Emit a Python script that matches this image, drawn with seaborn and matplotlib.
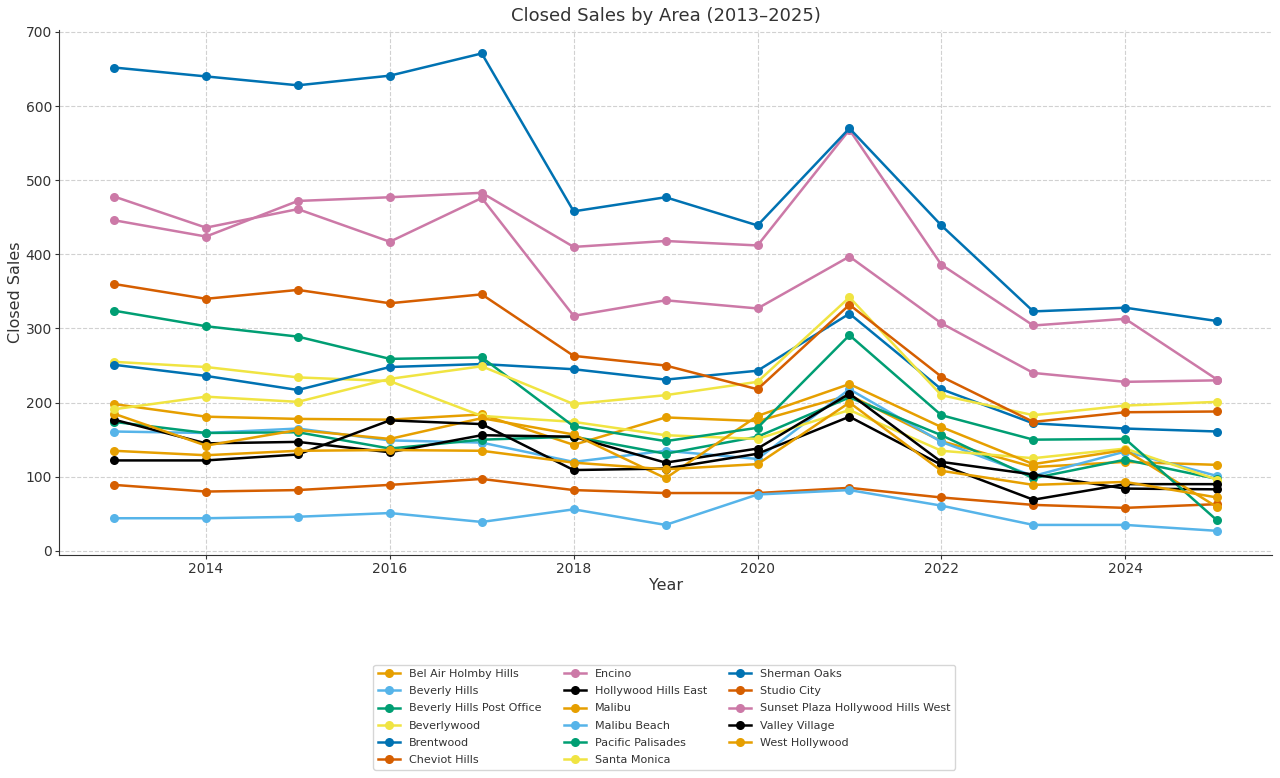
import pandas as pd
import matplotlib
matplotlib.use("Agg")
import matplotlib.pyplot as plt
import seaborn as sns

# ------------------------ data ------------------------
years = [2013, 2014, 2015, 2016, 2017, 2018, 2019, 2020, 2021, 2022, 2023, 2024, 2025]

bel_air_holmby_hills = [198, 181, 178, 177, 184, 143, 180, 175, 210, 148, 113, 120, 116]
beverly_hills = [161, 159, 165, 149, 146, 120, 135, 124, 218, 147, 101, 134, 101]
beverly_hills_post_office = [174, 159, 160, 138, 150, 154, 131, 154, 207, 156, 98, 123, 97]
beverlywood = [255, 248, 234, 229, 182, 174, 156, 151, 190, 135, 125, 138, 96]
brentwood = [251, 236, 217, 248, 252, 245, 231, 243, 320, 218, 172, 165, 161]
cheviot_hills = [89, 80, 82, 89, 97, 82, 78, 78, 85, 72, 62, 58, 63]
encino = [446, 424, 472, 477, 483, 410, 418, 412, 568, 386, 304, 313, 231]
hollywood_hills_east = [177, 145, 147, 133, 156, 154, 119, 138, 212, 120, 103, 84, 83]
malibu = [185, 142, 163, 151, 179, 157, 98, 182, 225, 167, 117, 136, 59]
malibu_beach = [44, 44, 46, 51, 39, 56, 35, 76, 82, 61, 35, 35, 27]
pacific_palisades = [324, 303, 289, 259, 261, 168, 148, 166, 291, 183, 150, 151, 41]
santa_monica = [191, 208, 201, 232, 249, 198, 210, 228, 342, 210, 183, 196, 201]
sherman_oaks = [652, 640, 628, 641, 671, 458, 477, 439, 570, 439, 323, 328, 310]
studio_city = [360, 340, 352, 334, 346, 263, 250, 218, 332, 235, 174, 187, 188]
sunset_plaza = [478, 436, 461, 417, 476, 317, 338, 327, 397, 307, 240, 228, 230]
valley_village = [122, 122, 130, 176, 171, 109, 111, 131, 181, 116, 69, 90, 90]
west_hollywood = [135, 129, 135, 136, 135, 119, 110, 117, 200, 108, 89, 93, 72]

areas = {
    "Bel Air Holmby Hills": bel_air_holmby_hills,
    "Beverly Hills": beverly_hills,
    "Beverly Hills Post Office": beverly_hills_post_office,
    "Beverlywood": beverlywood,
    "Brentwood": brentwood,
    "Cheviot Hills": cheviot_hills,
    "Encino": encino,
    "Hollywood Hills East": hollywood_hills_east,
    "Malibu": malibu,
    "Malibu Beach": malibu_beach,
    "Pacific Palisades": pacific_palisades,
    "Santa Monica": santa_monica,
    "Sherman Oaks": sherman_oaks,
    "Studio City": studio_city,
    "Sunset Plaza Hollywood Hills West": sunset_plaza,
    "Valley Village": valley_village,
    "West Hollywood": west_hollywood,
}

# Okabe-Ito colours, cycling
okabe_ito = ["#E69F00", "#56B4E9", "#009E73", "#F0E442",
             "#0072B2", "#D55E00", "#CC79A7", "#000000"]

# ------------------------ long format ------------------------
rows = []
for name, vals in areas.items():
    for yr, v in zip(years, vals):
        rows.append({"Year": yr, "Closed Sales": v, "Area": name})
df = pd.DataFrame(rows)

order = list(areas.keys())
palette = {n: okabe_ito[i % len(okabe_ito)] for i, n in enumerate(order)}

# ------------------------ plot ------------------------
text_col = "#333333"
plt.rcParams.update({
    "text.color": text_col,
    "axes.labelcolor": text_col,
    "xtick.color": text_col,
    "ytick.color": text_col,
    "axes.edgecolor": text_col,
})

fig, ax = plt.subplots(figsize=(12.8, 7.78), dpi=100)
fig.subplots_adjust(left=0.046, right=0.994, top=0.962, bottom=0.287)

sns.lineplot(data=df, x="Year", y="Closed Sales", hue="Area", hue_order=order,
             palette=palette, marker="o", markersize=6.5, markeredgewidth=0,
             linewidth=1.8, ax=ax, legend=True)

ax.set_title("Closed Sales by Area (2013–2025)", fontsize=13)
ax.set_xlabel("Year", fontsize=11.5, labelpad=2)
ax.set_ylabel("Closed Sales", fontsize=11.5, labelpad=2)
ax.tick_params(labelsize=10, pad=2, length=3)
ax.grid(True, linestyle="--", color="#cccccc", linewidth=0.8, alpha=0.9)
ax.set_axisbelow(True)
ax.spines["top"].set_visible(False)
ax.spines["right"].set_visible(False)

handles, labels = ax.get_legend_handles_labels()
ax.legend(handles, labels, ncol=3, loc="upper center",
          bbox_to_anchor=(0.519, 0.153), bbox_transform=fig.transFigure,
          fontsize=8, labelspacing=0.65, frameon=True, edgecolor="#cccccc")

fig.savefig("out.png", dpi=100)
